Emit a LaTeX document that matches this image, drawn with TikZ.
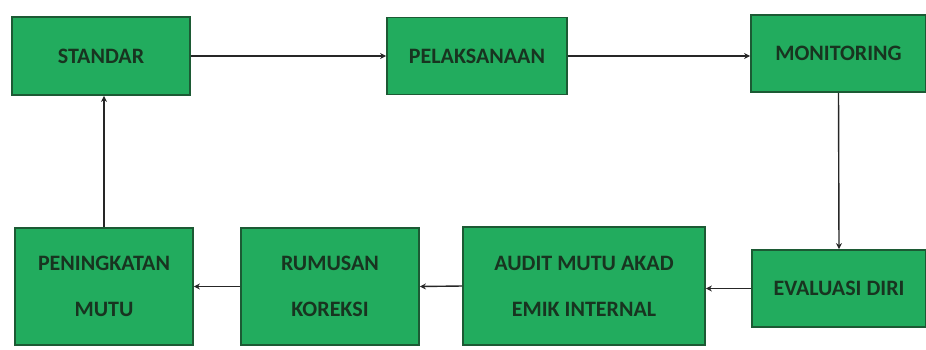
\documentclass[tikz,border=0pt]{standalone}
\usepackage{fontspec}
\setmainfont{Carlito}
\usetikzlibrary{arrows.meta}
\definecolor{boxfill}{RGB}{34,172,94}
\definecolor{boxline}{RGB}{28,90,52}
\definecolor{boxtext}{RGB}{24,52,32}
\begin{document}
\begin{tikzpicture}[x=1pt,y=-1pt,
  box/.style={draw=boxline,line width=1.8pt,fill=boxfill,text=boxtext,
    font=\fontsize{22}{46}\selectfont\bfseries,align=center,inner sep=0pt},
  arr/.style={draw=black!85,line width=1.4pt,-{Stealth[length=6pt,width=6pt]}}]
\useasboundingbox (0,0) rectangle (926,349);
\node[box,minimum width=178pt,minimum height=78pt] (std) at (101,56) {STANDAR};
\node[box,minimum width=180pt,minimum height=77pt] (pel) at (477,56) {PELAKSANAAN};
\node[box,minimum width=175pt,minimum height=77pt] (mon) at (838.5,53.5) {MONITORING};
\node[box,minimum width=174pt,minimum height=77pt] (eva) at (839,288.5) {EVALUASI DIRI};
\node[box,minimum width=242pt,minimum height=118pt] (aud) at (584,286) {AUDIT MUTU AKAD\\EMIK INTERNAL};
\node[box,minimum width=178pt,minimum height=117pt] (rum) at (330,286.5) {RUMUSAN\\KOREKSI};
\node[box,minimum width=178pt,minimum height=117pt] (pen) at (104,286.5) {PENINGKATAN\\MUTU};
\draw[arr] (std.east) -- (pel.west);
\draw[arr] (pel.east) -- (pel.east -| mon.west);
\draw[arr] (mon.south) -- (eva.north);
\draw[arr] (eva.west) -- (eva.west -| aud.east);
\draw[arr] (aud.west) -- (rum.east);
\draw[arr] (rum.west) -- (pen.east);
\draw[arr] (pen.north) -- (pen.north |- std.south);
\end{tikzpicture}
\end{document}
